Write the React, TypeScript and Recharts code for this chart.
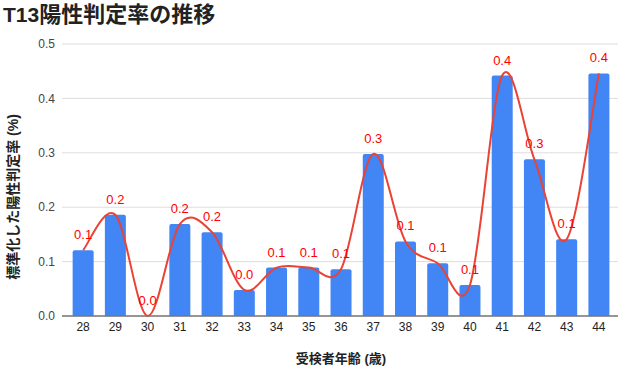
import { Bar, CartesianGrid, ComposedChart, LabelList, Line, XAxis, YAxis } from "recharts"

const ages = ["28", "29", "30", "31", "32", "33", "34", "35", "36", "37", "38", "39", "40", "41", "42", "43", "44"]
const rates = [0.121, 0.186, 0, 0.169, 0.154, 0.048, 0.089, 0.089, 0.086, 0.298, 0.137, 0.097, 0.057, 0.442, 0.288, 0.141, 0.446]
const yTicks = [0, 0.1, 0.2, 0.3, 0.4, 0.5]

const data = ages.map((age, i) => ({ age, rate: rates[i], trend: rates[i] }))

const font = "Arial, 'Liberation Sans', 'Noto Sans CJK JP', sans-serif"

// catmull-rom style smoothing, close to the "function" curve of the source
const smoothCurve = (context: any) => {
  let xs: number[] = []
  let ys: number[] = []
  return {
    areaStart() {},
    areaEnd() {},
    lineStart() {
      xs = []
      ys = []
    },
    point(x: number, y: number) {
      xs.push(+x)
      ys.push(+y)
    },
    lineEnd() {
      const n = xs.length
      if (!n) return
      context.moveTo(xs[0], ys[0])
      for (let i = 0; i < n - 1; i++) {
        const a = Math.max(i - 1, 0)
        const d = Math.min(i + 2, n - 1)
        const c1x = xs[i] + (xs[i + 1] - xs[a]) / 6
        const c1y = ys[i] + (ys[i + 1] - ys[a]) / 6
        const c2x = xs[i + 1] - (xs[d] - xs[i]) / 6
        const c2y = ys[i + 1] - (ys[d] - ys[i]) / 6
        context.bezierCurveTo(c1x, c1y, c2x, c2y, xs[i + 1], ys[i + 1])
      }
    },
  }
}

const textStyle = {
  position: "absolute" as const,
  whiteSpace: "nowrap" as const,
  fontWeight: "bold",
  color: "#222",
  fontFamily: font,
  zIndex: 2,
}

export default function App() {
  return (
    <div style={{ position: "relative", width: 622, height: 368, fontFamily: font, background: "#fff", overflow: "hidden" }}>
      <style>{"body{margin:0}"}</style>
      <ComposedChart
        width={622}
        height={368}
        data={data}
        margin={{ top: 44, right: 4, bottom: 0, left: 0 }}
        barCategoryGap="17.5%"
      >
        <CartesianGrid vertical={false} stroke="#ddd" />
        <XAxis
          dataKey="age"
          height={52}
          padding={{ left: 5, right: 3 }}
          tickLine={false}
          tickSize={0}
          tickMargin={6}
          axisLine={{ stroke: "#777", strokeWidth: 1.5 }}
          tick={{ fill: "#222", fontSize: 12, fontFamily: font }}
          interval={0}
        />
        <YAxis
          width={62}
          domain={[0, 0.5]}
          ticks={yTicks}
          tickFormatter={(v) => v.toFixed(1)}
          axisLine={false}
          tickLine={false}
          tickSize={0}
          tickMargin={7}
          tick={{ fill: "#444", fontSize: 12, fontFamily: font }}
        />
        <Bar dataKey="rate" fill="#4285F4" radius={[2, 2, 0, 0]} isAnimationActive={false} />
        <Line
          dataKey="trend"
          type={smoothCurve as any}
          stroke="#EA4335"
          strokeWidth={2}
          dot={false}
          activeDot={false}
          isAnimationActive={false}
        >
          <LabelList
            dataKey="trend"
            position="top"
            offset={11}
            formatter={(v: any) => Number(v).toFixed(1)}
            fill="#FF0000"
            fontSize={13}
            fontFamily={font}
          />
        </Line>
      </ComposedChart>
      <div style={{ ...textStyle, left: 3, top: 1, lineHeight: "28px" }}>
        <span style={{ fontSize: 21 }}>T13</span>
        <span style={{ fontSize: 22 }}>陽性判定率の推移</span>
      </div>
      <div
        style={{
          ...textStyle,
          left: 12,
          top: 197,
          fontSize: 14,
          transform: "translate(-50%, -50%) rotate(-90deg)",
        }}
      >
        標準化した陽性判定率 (%)
      </div>
      <div
        style={{
          ...textStyle,
          left: 341,
          top: 357,
          fontSize: 13,
          transform: "translate(-50%, -50%)",
        }}
      >
        受検者年齢 (歳)
      </div>
    </div>
  )
}
